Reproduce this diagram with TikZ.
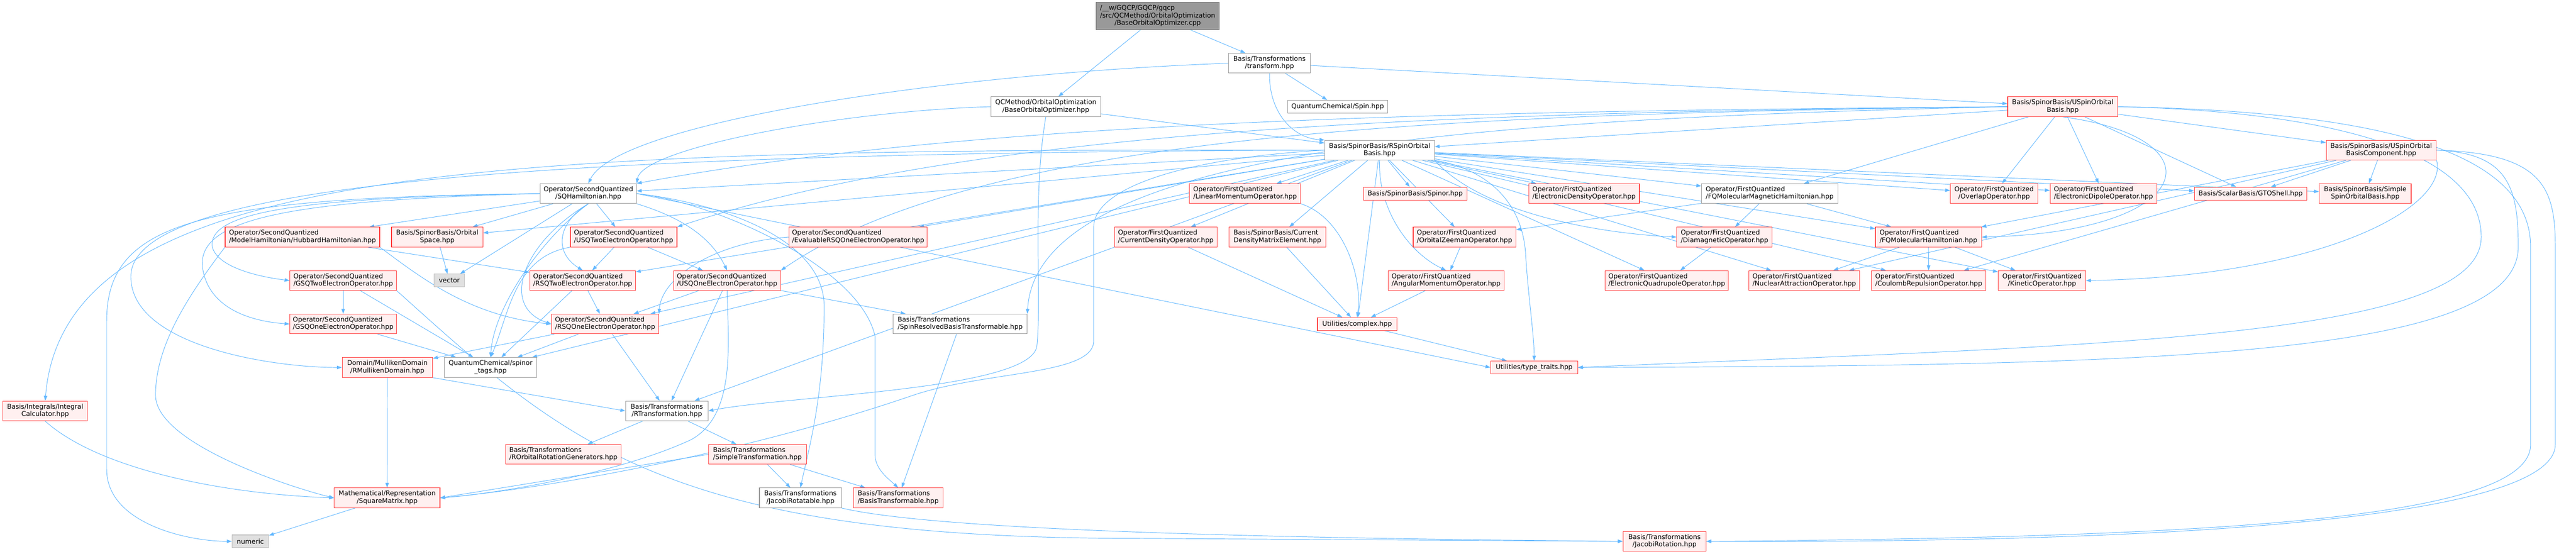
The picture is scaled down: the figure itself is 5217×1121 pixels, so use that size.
\documentclass[tikz,border=0pt]{standalone}
\usepackage{fontspec}
\setmainfont{DejaVu Sans}
\usetikzlibrary{arrows.meta,backgrounds}

\definecolor{edgeblue}{HTML}{63B8FF}
\definecolor{redline}{HTML}{FF3C3C}
\definecolor{redfill}{HTML}{FFF0F0}
\definecolor{greyline}{HTML}{999999}
\definecolor{rootfill}{HTML}{999999}
\definecolor{rootline}{HTML}{666666}
\definecolor{sysfill}{HTML}{E0E0E0}
\definecolor{sysline}{HTML}{BFBFBF}

\newcommand{\twoline}[2]{\begin{tabular}{@{}l@{}}#1\\\multicolumn{1}{@{}c@{}}{#2}\end{tabular}}

\tikzset{
  hdr/.style={draw=redline, fill=redfill, line width=0.9pt, inner sep=0pt,
    minimum height=30pt, font=\fontsize{10pt}{11.25pt}\selectfont},
  doc/.style={hdr, draw=greyline, fill=white},
  sys/.style={hdr, draw=sysline, fill=sysfill},
  wd/.style={minimum width=#1*0.75pt},
  oneline/.style={minimum height=19.5pt},
  inc/.style={draw=edgeblue, line width=0.75pt, -{Triangle[length=7.5pt,width=5.25pt]}}
}

\begin{document}
\begin{tikzpicture}[x=0.75pt, y=-0.75pt]
  \useasboundingbox (0,0) rectangle (5217,1121);

  \node[hdr, draw=rootline, fill=rootfill, wd=249, minimum height=41.25pt] (root) at (2344.5,32.5)
    {\begin{tabular}{@{}l@{}}/\_\_w/GQCP/GQCP/gqcp\\/src/QCMethod/OrbitalOptimization\\\multicolumn{1}{@{}c@{}}{/BaseOrbitalOptimizer.cpp}\end{tabular}};

  \node[doc, wd=166] (transform) at (2571,128) {\twoline{Basis/Transformations}{/transform.hpp}};
  \node[doc, wd=222] (boo) at (2118,216) {\twoline{QCMethod/OrbitalOptimization}{/BaseOrbitalOptimizer.hpp}};
  \node[doc, oneline, wd=202] (spin) at (2709,216) {QuantumChemical/Spin.hpp};
  \node[hdr, wd=223] (usob) at (4177.5,216) {\twoline{Basis/SpinorBasis/USpinOrbital}{Basis.hpp}};
  \node[doc, wd=222] (rsob) at (2794,304) {\twoline{Basis/SpinorBasis/RSpinOrbital}{Basis.hpp}};
  \node[hdr, wd=223] (usobc) at (4822.5,304) {\twoline{Basis/SpinorBasis/USpinOrbital}{BasisComponent.hpp}};

  \node[doc, wd=195] (sqham) at (1191.5,392) {\twoline{Operator/SecondQuantized}{/SQHamiltonian.hpp}};
  \node[hdr, wd=225] (linmom) at (2521.5,392) {\twoline{Operator/FirstQuantized}{/LinearMomentumOperator.hpp}};
  \node[hdr, oneline, wd=210] (spinor) at (2866,392) {Basis/SpinorBasis/Spinor.hpp};
  \node[hdr, wd=224] (eldens) at (3208,392) {\twoline{Operator/FirstQuantized}{/ElectronicDensityOperator.hpp}};
  \node[doc, wd=276] (fqmmh) at (3584,392) {\twoline{Operator/FirstQuantized}{/FQMolecularMagneticHamiltonian.hpp}};
  \node[hdr, wd=177] (overlap) at (4038.5,392) {\twoline{Operator/FirstQuantized}{/OverlapOperator.hpp}};
  \node[hdr, wd=216] (eldip) at (4260,392) {\twoline{Operator/FirstQuantized}{/ElectronicDipoleOperator.hpp}};
  \node[hdr, oneline, wd=228] (gtoshell) at (4558,392) {Basis/ScalarBasis/GTOShell.hpp};
  \node[hdr, wd=186] (ssob) at (4790,392) {\twoline{Basis/SpinorBasis/Simple}{SpinOrbitalBasis.hpp}};

  \node[hdr, wd=313] (hubbard) at (612.5,480) {\twoline{Operator/SecondQuantized}{/ModelHamiltonian/HubbardHamiltonian.hpp}};
  \node[hdr, wd=185] (orbspace) at (885.5,480) {\twoline{Basis/SpinorBasis/Orbital}{Space.hpp}};
  \node[hdr, wd=216] (usqtwo) at (1263,480) {\twoline{Operator/SecondQuantized}{/USQTwoElectronOperator.hpp}};
  \node[hdr, wd=280] (evalrsqone) at (1738,480) {\twoline{Operator/SecondQuantized}{/EvaluableRSQOneElectronOperator.hpp}};
  \node[hdr, wd=208] (curdens) at (2361,480) {\twoline{Operator/FirstQuantized}{/CurrentDensityOperator.hpp}};
  \node[hdr, wd=196] (cdme) at (2587,480) {\twoline{Basis/SpinorBasis/Current}{DensityMatrixElement.hpp}};
  \node[hdr, wd=208] (orbzee) at (2966,480) {\twoline{Operator/FirstQuantized}{/OrbitalZeemanOperator.hpp}};
  \node[hdr, wd=193] (diamag) at (3492.5,480) {\twoline{Operator/FirstQuantized}{/DiamagneticOperator.hpp}};
  \node[hdr, wd=215] (fqmh) at (3905.5,480) {\twoline{Operator/FirstQuantized}{/FQMolecularHamiltonian.hpp}};

  \node[hdr, wd=216] (gsqtwo) at (695,568) {\twoline{Operator/SecondQuantized}{/GSQTwoElectronOperator.hpp}};
  \node[sys, oneline, wd=62] (vector) at (910,568) {vector};
  \node[hdr, wd=214] (rsqtwo) at (1180,568) {\twoline{Operator/SecondQuantized}{/RSQTwoElectronOperator.hpp}};
  \node[hdr, wd=217] (usqone) at (1472.5,568) {\twoline{Operator/SecondQuantized}{/USQOneElectronOperator.hpp}};
  \node[hdr, wd=235] (angmom) at (2928.5,568) {\twoline{Operator/FirstQuantized}{/AngularMomentumOperator.hpp}};
  \node[hdr, wd=249] (elquad) at (3375.5,568) {\twoline{Operator/FirstQuantized}{/ElectronicQuadrupoleOperator.hpp}};
  \node[hdr, wd=224] (nucattr) at (3654,568) {\twoline{Operator/FirstQuantized}{/NuclearAttractionOperator.hpp}};
  \node[hdr, wd=232] (coulomb) at (3906,568) {\twoline{Operator/FirstQuantized}{/CoulombRepulsionOperator.hpp}};
  \node[hdr, wd=177] (kinetic) at (4135.5,568) {\twoline{Operator/FirstQuantized}{/KineticOperator.hpp}};

  \node[hdr, wd=216] (gsqone) at (695,656) {\twoline{Operator/SecondQuantized}{/GSQOneElectronOperator.hpp}};
  \node[hdr, wd=217] (rsqone) at (1225.5,656) {\twoline{Operator/SecondQuantized}{/RSQOneElectronOperator.hpp}};
  \node[doc, wd=271] (srbt) at (1944.5,656) {\twoline{Basis/Transformations}{/SpinResolvedBasisTransformable.hpp}};
  \node[hdr, oneline, wd=161] (complex) at (2748.5,656) {Utilities/complex.hpp};

  \node[hdr, wd=183] (rmull) at (784.5,744) {\twoline{Domain/MullikenDomain}{/RMullikenDomain.hpp}};
  \node[doc, wd=187] (spinortags) at (993.5,744) {\twoline{QuantumChemical/spinor}{\_tags.hpp}};
  \node[hdr, oneline, wd=176] (typetraits) at (3107,744) {Utilities/type\_traits.hpp};

  \node[hdr, wd=171] (intcalc) at (91.5,832) {\twoline{Basis/Integrals/Integral}{Calculator.hpp}};
  \node[doc, wd=167] (rtrans) at (1350.5,832) {\twoline{Basis/Transformations}{/RTransformation.hpp}};
  \node[hdr, wd=234] (rorg) at (1141,920) {\twoline{Basis/Transformations}{/ROrbitalRotationGenerators.hpp}};
  \node[hdr, wd=198] (simpletrans) at (1534,920) {\twoline{Basis/Transformations}{/SimpleTransformation.hpp}};
  \node[hdr, wd=214] (sqmat) at (784,1008) {\twoline{Mathematical/Representation}{/SquareMatrix.hpp}};
  \node[doc, wd=166] (jacrotatable) at (1621,1008) {\twoline{Basis/Transformations}{/JacobiRotatable.hpp}};
  \node[hdr, wd=182] (basistransformable) at (1819,1008) {\twoline{Basis/Transformations}{/BasisTransformable.hpp}};
  \node[sys, oneline, wd=74] (numeric) at (507,1096) {numeric};
  \node[hdr, wd=168] (jacrot) at (3371,1096) {\twoline{Basis/Transformations}{/JacobiRotation.hpp}};

  \begin{scope}[on background layer, every edge/.style={inc}]
    \path (root) edge (boo) edge (transform);
    \path (transform) edge (spin) edge (usob);
    \draw[inc] (transform.south) .. controls (2570,230) and (2620,280) .. (rsob.north west);
    \draw[inc] (transform.west) .. controls (1900,150) and (1250,250) .. (sqham.north);
    \path (boo) edge (rsob);
    \draw[inc] (boo.west) .. controls (1700,225) and (1300,300) .. (sqham.north east);
    \draw[inc] (boo.south) .. controls (2090,400) and (2110,600) .. (2100,700) .. controls (2090,790) and (1600,800) .. (rtrans.east);

    \path (usob) edge (rsob) edge (fqmmh) edge (overlap) edge (eldip) edge (gtoshell) edge (usobc);
    \draw[inc] (usob.west) .. controls (3000,225) and (2000,240) .. (sqham.north east);
    \draw[inc] (usob.west) .. controls (3000,228) and (2000,250) .. (usqtwo.north east);
    \draw[inc] (usob.west) .. controls (3000,230) and (2000,260) .. (usqone.north east);
    \draw[inc] (usob.west) .. controls (3000,240) and (2100,300) .. (srbt.north east);
    \draw[inc] (usob.south) .. controls (4500,280) and (4450,470) .. (fqmh.east);
    \draw[inc] (usob.east) .. controls (4700,225) and (5025,300) .. (5025,480) .. controls (5025,690) and (4200,700) .. (typetraits.east);
    \draw[inc] (usob.east) .. controls (4800,225) and (5125,300) .. (5125,500) -- (5125,900) .. controls (5125,1050) and (4500,1088) .. (jacrot.east);

    \path (usobc) edge (gtoshell) edge (ssob) edge (coulomb) edge (nucattr) edge (fqmh);
    \draw[inc] (usobc.south east) .. controls (4960,420) and (4700,560) .. (kinetic.east);
    \draw[inc] (usobc.east) .. controls (5080,310) and (5100,380) .. (5100,500) .. controls (5100,730) and (4300,740) .. (typetraits.east);
    \draw[inc] (usobc.east) .. controls (5150,310) and (5175,380) .. (5175,500) -- (5175,900) .. controls (5175,1040) and (4500,1100) .. (jacrot.east);

    \path (rsob) edge (sqham) edge (orbspace) edge (evalrsqone) edge (rsqone) edge (rsqtwo)
      edge (spinortags) edge (rtrans) edge (linmom) edge (spinor) edge (eldens) edge (fqmmh)
      edge (curdens) edge (cdme) edge (orbzee) edge (complex) edge (elquad) edge (nucattr)
      edge (coulomb) edge (kinetic) edge (overlap) edge (eldip) edge (gtoshell) edge (ssob) edge (fqmh);
    \draw[inc] (rsob.south) .. controls (2790,420) and (2850,510) .. (angmom.north);
    \draw[inc] (rsob.south east) .. controls (2990,420) and (3200,470) .. (diamag.west);
    \draw[inc] (rsob.south east) .. controls (3000,340) and (3085,400) .. (3090,520) .. controls (3095,600) and (3107,680) .. (typetraits.north);
    \draw[inc] (rsob.west) .. controls (1000,300) and (130,330) .. (intcalc.north);
    \draw[inc] (rsob.west) .. controls (1000,310) and (265,380) .. (265,560) .. controls (265,700) and (550,744) .. (rmull.west);
    \draw[inc] (rsob.west) .. controls (2400,320) and (2215,380) .. (2215,460) -- (2215,690) .. controls (2215,760) and (2000,750) .. (1850,800) .. controls (1500,920) and (1100,990) .. (sqmat.east);

    \path (sqham) edge (hubbard) edge (orbspace) edge (vector) edge (usqtwo);
    \path (sqham.east) edge (typetraits.west);
    \draw[inc] (sqham.south) .. controls (1130,450) and (1120,510) .. (rsqtwo.north);
    \draw[inc] (sqham.south) .. controls (1060,490) and (1010,620) .. (rsqone.west);
    \draw[inc] (sqham.south east) .. controls (1380,440) and (1440,480) .. (usqone.north);
    \draw[inc] (sqham.south) .. controls (1100,480) and (1000,620) .. (spinortags.north);
    \draw[inc] (sqham.west) .. controls (600,400) and (420,430) .. (430,500) .. controls (440,540) and (520,560) .. (gsqtwo.west);
    \draw[inc] (sqham.west) .. controls (600,405) and (400,440) .. (410,540) .. controls (420,620) and (500,650) .. (gsqone.west);
    \draw[inc] (sqham.west) .. controls (400,400) and (216,450) .. (216,650) -- (216,950) .. controls (216,1060) and (380,1096) .. (numeric.west);
    \draw[inc] (sqham.east) .. controls (1450,410) and (1669,480) .. (1669,620) .. controls (1669,800) and (1640,900) .. (jacrotatable.north);
    \draw[inc] (sqham.east) .. controls (1450,410) and (1740,540) .. (1772,680) -- (1772,920) .. controls (1772,950) and (1800,970) .. (basistransformable.north);

    \path (hubbard) edge (rsqtwo);
    \draw[inc] (hubbard.south east) .. controls (850,560) and (950,640) .. (rsqone.west);
    \draw[inc] (hubbard.south west) .. controls (380,600) and (315,700) .. (315,800) .. controls (315,900) and (600,990) .. (sqmat.west);
    \path (orbspace) edge (vector);
    \path (usqtwo) edge (rsqtwo) edge (usqone);
    \draw[inc] (usqtwo.south west) .. controls (1040,520) and (1030,640) .. (spinortags.north);
    \draw[inc] (evalrsqone.west) .. controls (1450,490) and (1340,560) .. (rsqone.north east);
    \path (gsqtwo) edge (gsqone) edge (spinortags);
    \draw[inc] (gsqtwo.south east) .. controls (1150,900) and (1350,1090) .. (2300,1090) -- (jacrot.west);
    \path (gsqone) edge (spinortags);
    \path (rsqtwo) edge (rsqone) edge (spinortags);
    \path (rsqone) edge (spinortags) edge (rmull) edge (rtrans);
    \path (usqone) edge (rsqone) edge (srbt) edge (rtrans);
    \draw[inc] (usqone.south) .. controls (1475,700) and (1490,840) .. (1400,890) .. controls (1250,960) and (1000,1000) .. (sqmat.east);
    \path (rmull) edge (sqmat);
    \path (rmull.south east) edge (rtrans.west);
    \draw[inc] (intcalc.south) .. controls (200,950) and (450,1000) .. (sqmat.west);
    \path (rtrans) edge (rorg) edge (simpletrans);
    \path (simpletrans) edge (jacrotatable) edge (basistransformable);
    \path (simpletrans.west) edge (sqmat.east);
    \path (srbt) edge (basistransformable);
    \draw[inc] (jacrotatable.south east) .. controls (1900,1075) and (2600,1090) .. (jacrot.west);
    \path (sqmat) edge (numeric);

    \path (fqmmh) edge (orbzee) edge (diamag) edge (fqmh);
    \path (fqmh) edge (nucattr) edge (coulomb) edge (kinetic);
    \path (orbzee) edge (angmom);
    \path (diamag) edge (elquad);
    \path (angmom) edge (complex);
    \path (curdens) edge (complex);
    \path (cdme) edge (complex);
    \draw[inc] (linmom.south east) .. controls (2720,440) and (2760,560) .. (complex.north);
    \path (complex) edge (typetraits);
  \end{scope}
\end{tikzpicture}
\end{document}
